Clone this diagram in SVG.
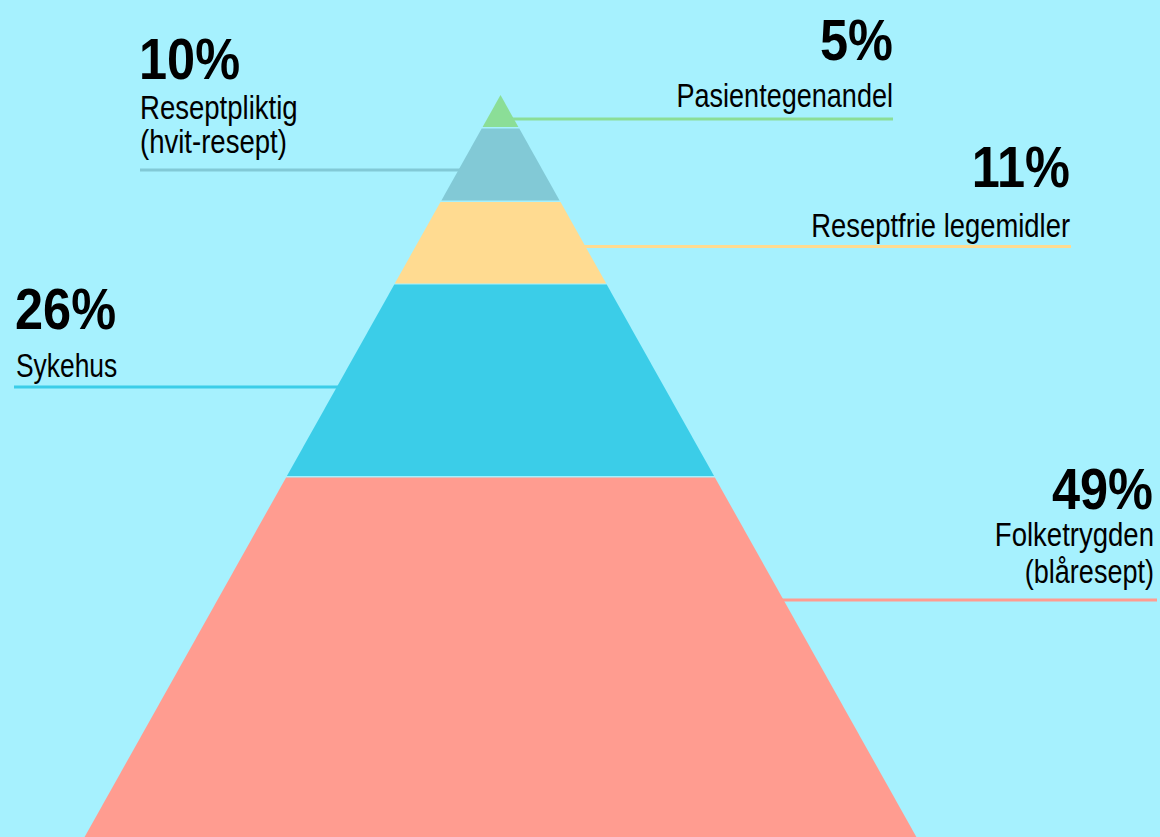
<svg xmlns="http://www.w3.org/2000/svg" width="1160" height="837" viewBox="0 0 1160 837">
<style>
.pct{font-family:"Liberation Sans Narrow","Liberation Sans",sans-serif;font-weight:bold;font-size:58px;fill:#000}
.lbl{font-family:"Liberation Sans Narrow","Liberation Sans",sans-serif;font-size:33px;fill:#000}
.r{text-anchor:end}
.lead{stroke-width:3;fill:none}
</style>
<rect x="0" y="0" width="1160" height="837" fill="#A6F1FE"/>
<g id="connectors">
<line class="lead" x1="510" y1="119" x2="893" y2="119" stroke="#8BDE97"/>
<line class="lead" x1="140" y1="170" x2="465" y2="170" stroke="#82C9D6"/>
<line class="lead" x1="580" y1="246.5" x2="1071" y2="246.5" stroke="#FFDB91"/>
<line class="lead" x1="14" y1="387" x2="345" y2="387" stroke="#3BCDE8"/>
<line class="lead" x1="775" y1="600" x2="1157" y2="600" stroke="#FF9C90"/>
</g>
<g id="band-pasientegenandel">
<polygon points="500.5,95 518.4,127 482.6,127" fill="#8BDE97"/>
</g>
<g id="band-reseptpliktig">
<polygon points="481.7,128.5 519.3,128.5 559.6,200.5 441.4,200.5" fill="#82C9D6"/>
</g>
<g id="band-reseptfrie">
<polygon points="440.5,202 560.5,202 606.2,283.5 394.8,283.5" fill="#FFDB91"/>
</g>
<g id="band-sykehus">
<polygon points="394.3,284.5 606.7,284.5 714.1,476 286.9,476" fill="#3BCDE8"/>
</g>
<g id="band-folketrygden">
<polygon points="286.1,477.5 714.9,477.5 916.4,837 84.6,837" fill="#FF9C90"/>
</g>
<g id="label-10">
<text class="pct" transform="translate(139,79) scale(0.87,1)">10%</text>
<text class="lbl" transform="translate(140,119) scale(0.835,1)">Reseptpliktig</text>
<text class="lbl" transform="translate(140,153) scale(0.835,1)">(hvit-resept)</text>
</g>
<g id="label-5">
<text class="pct r" transform="translate(893,60) scale(0.87,1)">5%</text>
<text class="lbl r" transform="translate(893,107) scale(0.82,1)">Pasientegenandel</text>
</g>
<g id="label-11">
<text class="pct r" transform="translate(1070,187) scale(0.87,1)">11%</text>
<text class="lbl r" transform="translate(1070,237) scale(0.83,1)">Reseptfrie legemidler</text>
</g>
<g id="label-26">
<text class="pct" transform="translate(15,329) scale(0.87,1)">26%</text>
<text class="lbl" transform="translate(16,377) scale(0.8,1)">Sykehus</text>
</g>
<g id="label-49">
<text class="pct r" transform="translate(1153,509) scale(0.87,1)">49%</text>
<text class="lbl r" transform="translate(1154,546) scale(0.835,1)">Folketrygden</text>
<text class="lbl r" transform="translate(1154,583) scale(0.82,1)">(blåresept)</text>
</g>
</svg>
